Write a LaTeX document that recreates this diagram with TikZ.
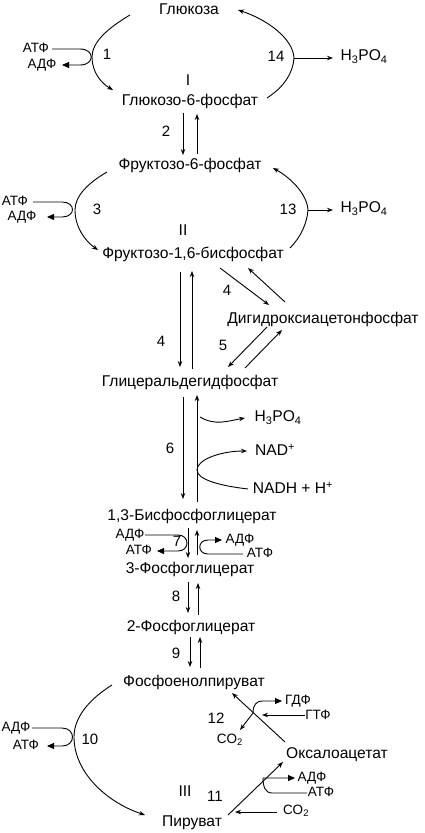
\documentclass[tikz,border=0pt]{standalone}
\usepackage{fontspec}
\setmainfont{Liberation Sans}
\usetikzlibrary{arrows.meta,calc}
\begin{document}
\begin{tikzpicture}[x=1pt,y=-1pt,
  txt/.style={inner sep=1pt,text height=0.716em,text depth=0pt},
  met/.style={txt,font=\fontsize{15.6}{15.6}\selectfont},
  lab/.style={txt,font=\fontsize{13.5}{13.5}\selectfont},
  num/.style={txt,font=\fontsize{15}{15}\selectfont},
  ln/.style={line width=0.9pt},
  arr/.style={ln,-{Stealth[length=6pt,width=4.5pt]}},
  harr/.style={ln,-{Triangle[length=7pt,width=6pt]}}]
\useasboundingbox (0,0) rectangle (425,833);
% metabolites
\node[met] (gluc) at (189,11) {Глюкоза};
\node[met] (g6p) at (190,102) {Глюкозо-6-фосфат};
\node[met] (f6p) at (190,166) {Фруктозо-6-фосфат};
\node[met] (f16) at (193,255) {Фруктозо-1,6-бисфосфат};
\node[met] (dhap) at (323,320) {Дигидроксиацетонфосфат};
\node[met] (gap) at (190,383) {Глицеральдегидфосфат};
\node[met] (bpg) at (192,517) {1,3-Бисфосфоглицерат};
\node[met] (pg3) at (190,570) {3-Фосфоглицерат};
\node[met] (pg2) at (191,628) {2-Фосфоглицерат};
\node[met] (pep) at (194,683) {Фосфоенолпируват};
\node[met] (oaa) at (337,755) {Оксалоацетат};
\node[met] (pyr) at (192,823) {Пируват};
% roman numerals
\node[met] (r1) at (188,82) {I};
\node[met] (r2) at (183,232) {II};
\node[met] (r3) at (185,793) {III};
% side products
\node[met] (h14) at (364,57) {H\textsubscript{3}PO\textsubscript{4}};
\node[met] (h13) at (364,209) {H\textsubscript{3}PO\textsubscript{4}};
\node[met] (h6) at (278,418) {H\textsubscript{3}PO\textsubscript{4}};
\node[met] (nad) at (275,452) {NAD\textsuperscript{+}};
\node[met] (nadh) at (293,490) {NADH + H\textsuperscript{+}};
\node[lab] (atf1) at (36,49) {АТФ};
\node[lab] (adf1) at (42,65) {АДФ};
\node[lab] (atf3) at (15,202) {АТФ};
\node[lab] (adf3) at (22,217) {АДФ};
\node[lab] (adf7) at (130,535) {АДФ};
\node[lab] (atf7) at (139,551) {АТФ};
\node[lab] (adf7r) at (240,540) {АДФ};
\node[lab] (atf7r) at (260,554) {АТФ};
\node[lab] (adf10) at (16,728) {АДФ};
\node[lab] (atf10) at (26,746) {АТФ};
\node[lab] (adf11) at (312,778) {АДФ};
\node[lab] (atf11) at (321,793) {АТФ};
\node[lab] (co2a) at (296,811) {CO\textsubscript{2}};
\node[lab] (gdf) at (298,701) {ГДФ};
\node[lab] (gtf) at (318,716) {ГТФ};
\node[lab] (co2b) at (230,740) {CO\textsubscript{2}};
% step numbers
\node[num] (n1) at (107,56) {1};
\node[num] (n14) at (276,58) {14};
\node[num] (n2) at (166,133) {2};
\node[num] (n3) at (97,211) {3};
\node[num] (n13) at (288,211) {13};
\node[num] (n4a) at (161,343) {4};
\node[num] (n4b) at (227,292) {4};
\node[num] (n5) at (223,347) {5};
\node[num] (n6) at (170,450) {6};
\node[num] (n7) at (177,543) {7};
\node[num] (n8) at (176,598) {8};
\node[num] (n9) at (176,655) {9};
\node[num] (n10) at (90,741) {10};
\node[num] (n11) at (215,798) {11};
\node[num] (n12) at (216,720) {12};
% helper coordinates
\coordinate (c14) at (294,58);
\coordinate (c13) at (308,210);
\coordinate (x12) at (253,713);
% cycle I
\draw[arr] ($(gluc)+(-59,4)$) .. controls (108,28) and (92,42) .. (92,57)
  .. controls (92,72) and (101,83) .. ($(g6p)+(-77,-12)$);
\draw[arr] ($(g6p)+(77,-4)$) .. controls (284,87) and (293,73) .. (c14)
  .. controls (293,38) and (266,19) .. ($(gluc)+(49,-1)$);
\draw[arr] (c14) -- ($(h14)+(-31,1)$);
\draw[harr] ($(atf1)+(16,0)$) -- (80,49) .. controls (95,49) and (95,65) .. (80,65) -- ($(adf1)+(20,0)$);
% step 2
\draw[arr] ($(g6p)+(-7,11)$) -- ($(f6p)+(-7,-11)$);
\draw[arr] ($(f6p)+(7,-12)$) -- ($(g6p)+(7,12)$);
% cycle II
\draw[arr] ($(f6p)+(-83,6)$) .. controls (88,183) and (75,196) .. (75,210)
  .. controls (75,227) and (85,241) .. ($(f16)+(-95,-5)$);
\draw[arr] ($(f16)+(97,-7)$) .. controls (301,237) and (307,223) .. (c13)
  .. controls (307,194) and (291,178) .. ($(f6p)+(83,2)$);
\draw[arr] (c13) -- ($(h13)+(-31,1)$);
\draw[harr] ($(atf3)+(18,0)$) -- (62,202) .. controls (76,202) and (76,217) .. (62,217) -- ($(adf3)+(25,0)$);
% step 4
\draw[arr] ($(f16)+(-13,17)$) -- ($(gap)+(-10,-16)$);
\draw[arr] ($(gap)+(2,-14)$) -- ($(f16)+(-1,16)$);
\draw[arr] ($(f16)+(27,13)$) -- ($(dhap)+(-54,-15)$);
\draw[arr] ($(dhap)+(-38,-18)$) -- ($(f16)+(55,13)$);
% step 5
\draw[arr] ($(dhap)+(-56,7)$) -- ($(gap)+(38,-16)$);
\draw[arr] ($(gap)+(55,-15)$) -- ($(dhap)+(-41,10)$);
% step 6
\draw[arr] ($(gap)+(-7,14)$) -- ($(bpg)+(-9,-18)$);
\draw[arr] ($(bpg)+(5,-15)$) -- ($(gap)+(7,12)$);
\draw[arr] (200,417) .. controls (215,426) and (228,421) .. ($(h6)+(-33,0)$);
\draw[arr] ($(nadh)+(-45,-1)$) .. controls (222,486) and (197,480) .. (197,470)
  .. controls (197,459) and (222,451) .. ($(nad)+(-28,-1)$);
% step 7
\draw[arr] ($(bpg)+(-4,11)$) -- ($(pg3)+(-2,-12)$);
\draw[arr] ($(pg3)+(7,-15)$) -- ($(bpg)+(5,13)$);
\draw[harr] ($(adf7)+(15,0)$) -- (178,535) .. controls (190,535) and (190,551) .. (178,551) -- ($(atf7)+(18,0)$);
\draw[harr] ($(atf7r)+(-17,0)$) -- (208,554) .. controls (197,554) and (197,540) .. (208,540) -- ($(adf7r)+(-18,0)$);
% step 8
\draw[arr] ($(pg3)+(-2,12)$) -- ($(pg2)+(-3,-15)$);
\draw[arr] ($(pg2)+(7,-13)$) -- ($(pg3)+(8,13)$);
% step 9
\draw[arr] ($(pg2)+(-1,9)$) -- ($(pep)+(-4,-16)$);
\draw[arr] ($(pep)+(6,-15)$) -- ($(pg2)+(9,9)$);
% cycle III
\draw[arr] ($(pep)+(-82,2)$) .. controls (88,700) and (74,718) .. (74,737)
  .. controls (74,772) and (106,802) .. ($(pyr)+(-47,-8)$);
\draw[harr] ($(adf10)+(16,0)$) -- (62,728) .. controls (76,728) and (76,746) .. (62,746) -- ($(atf10)+(21,0)$);
% step 11
\draw[arr] ($(pyr)+(36,-8)$) -- ($(oaa)+(-54,7)$);
\draw[arr] ($(co2a)+(-19,1)$) -- (235,812);
\draw[harr] ($(atf11)+(-14,0)$) -- (272,793) .. controls (265,793) and (263,786) .. (263,778) -- ($(adf11)+(-17,0)$);
% step 12
\draw[arr] ($(oaa)+(-52,-13)$) -- ($(pep)+(38,10)$);
\draw[arr] ($(gtf)+(-13,-1)$) -- (262,715);
\draw[harr] (x12) .. controls (253,705) and (256,701) .. (263,701) -- ($(gdf)+(-16,0)$);
\draw[arr] (x12) -- ($(co2b)+(10,-10)$);
\end{tikzpicture}
\end{document}
